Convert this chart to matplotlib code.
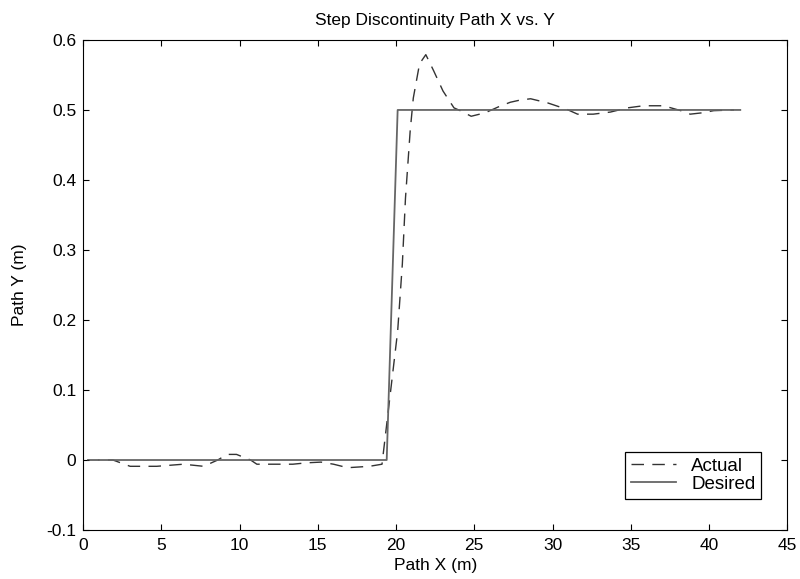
import numpy as np
import matplotlib
matplotlib.use("Agg")
import matplotlib.pyplot as plt

plt.rcParams['font.family'] = ['Liberation Sans', 'DejaVu Sans']
plt.rcParams['axes.unicode_minus'] = False

# desired path (step)
desired_x = [1.0, 19.4, 20.1, 42.0]
desired_y = [0.0, 0.0, 0.5, 0.5]

# actual path
actual_x = [0.25, 1.9, 3.0, 4.7, 6.4, 7.7, 8.6, 9.2, 9.8, 10.7, 11.1, 12.2,
            13.4, 14.3, 15.2, 16.0, 16.9, 18.3, 19.1, 19.6, 20.1, 20.4, 20.6,
            20.9, 21.1, 21.5, 21.9, 22.4, 23.0, 23.7, 24.1, 24.8, 25.7, 26.6,
            27.3, 27.9, 28.6, 29.7, 30.9, 31.6, 32.6, 33.7, 34.8, 35.8, 37.1,
            38.2, 38.8, 39.6, 40.3, 41.6]
actual_y = [0.0, 0.0, -0.009, -0.009, -0.006, -0.009, 0.0, 0.008, 0.008, 0.0,
            -0.006, -0.006, -0.006, -0.004, -0.003, -0.006, -0.011, -0.009,
            -0.006, 0.089, 0.184, 0.28, 0.374, 0.47, 0.517, 0.566, 0.579,
            0.556, 0.527, 0.503, 0.499, 0.491, 0.496, 0.505, 0.511, 0.514,
            0.516, 0.51, 0.501, 0.494, 0.494, 0.497, 0.503, 0.506, 0.506,
            0.499, 0.494, 0.496, 0.499, 0.5]

fig = plt.figure(figsize=(8, 5.79), dpi=100)
ax = fig.add_axes([0.104, 0.0846, 0.88, 0.8464])

ax.plot(actual_x, actual_y, color='#333333', lw=1.0, dashes=(9, 6), label='Actual')
ax.plot(desired_x, desired_y, color='#666666', lw=1.3, label='Desired')

ax.set_xlim(0, 45)
ax.set_ylim(-0.1, 0.6)
ax.set_xticks(np.arange(0, 46, 5))
yt = np.round(np.arange(-0.1, 0.61, 0.1), 1)
ax.set_yticks(yt)
ax.set_yticklabels(['0' if v == 0 else '%g' % v for v in yt])
ax.tick_params(direction='in', top=True, right=True, labelsize=12.5, length=4)
ax.tick_params(axis='x', pad=6)
ax.tick_params(axis='y', pad=5)

ax.set_title('Step Discontinuity Path X vs. Y', fontsize=12.5, pad=11)
ax.set_xlabel('Path X (m)', fontsize=12.5, labelpad=3)
ax.set_ylabel('Path Y (m)', fontsize=12.5, labelpad=14)

leg = ax.legend(loc='lower right', fontsize=13.5, fancybox=False, framealpha=1,
                edgecolor='black', handlelength=2.4, borderpad=0.3,
                labelspacing=0.05, bbox_to_anchor=(0.976, 0.045))
leg.get_frame().set_linewidth(0.9)

fig.savefig('out.png', dpi=100)
